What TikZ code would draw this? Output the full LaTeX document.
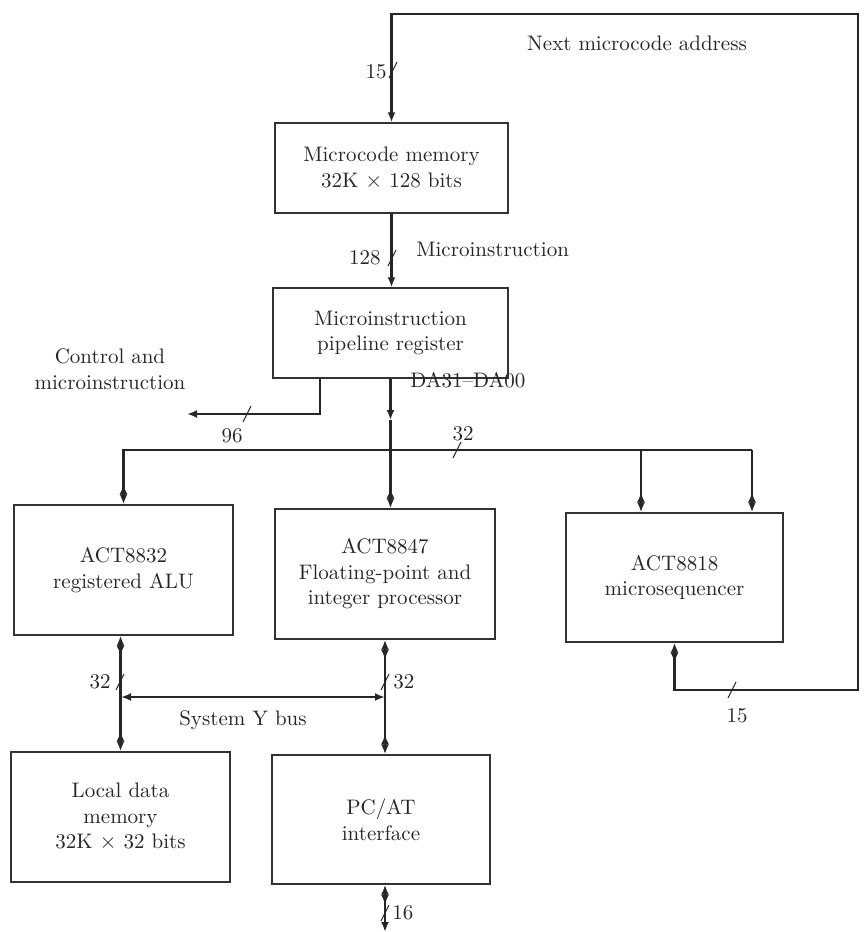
\documentclass[tikz,border=0pt]{standalone}
\usetikzlibrary{arrows.meta}
\begin{document}
\begin{tikzpicture}[x=0.5pt,y=-0.5pt,
  font=\fontsize{10.5}{12.8}\selectfont,
  every node/.style={text=black!85},
  box/.style={draw=black!80, line width=0.7pt, align=center, inner sep=0pt},
  wire/.style={draw=black!85, line width=1.1pt},
  busmark/.pic={\draw[black!85, line width=0.5pt] (-4,8) -- (4,-8);}
]
\useasboundingbox (0,0) rectangle (865,932);

% boxes
\node[box, minimum width=116.5pt, minimum height=45pt] (mem) at (391.5,168) {Microcode memory\\32K $\times$ 128 bits};
\node[box, minimum width=117.5pt, minimum height=45pt] (pipe) at (390.5,333) {Microinstruction\\pipeline register};
\node[box, minimum width=109.5pt, minimum height=65pt] (alu) at (123.5,570) {ACT8832\\registered ALU};
\node[box, minimum width=110pt, minimum height=65pt] (fpu) at (385,574) {ACT8847\\Floating-point and\\integer processor};
\node[box, minimum width=108.5pt, minimum height=64.5pt] (seq) at (674.5,577.5) {ACT8818\\microsequencer};
\node[box, minimum width=109.5pt, minimum height=65pt] (ldm) at (120.5,817) {Local data\\memory\\32K $\times$ 32 bits};
\node[box, minimum width=109pt, minimum height=64.5pt] (pcat) at (381,819.5) {PC/AT\\interface};

% coordinates
\coordinate (c1) at (858,690);
\coordinate (c2) at (858,14);
\coordinate (k1) at (320,414);
\coordinate (k2) at (187,414);
\coordinate (dmid) at (390.5,420);
\coordinate (busR) at (752,450);
\coordinate (busM) at (641,450);
\coordinate (ya) at (121,697);
\coordinate (yb) at (385,697);
\coordinate (pend) at (385,932);

% connectors
\draw[wire, {Latex[length=5pt,width=4pt] Latex[length=5pt,width=4pt,reversed]}-{Latex[length=5pt,width=4pt]}] (seq.south) |- (c1) -- (c2) -| (mem.north);
\draw[wire, -{Latex[length=5pt,width=4pt]}] (mem.south) -- (mem.south |- pipe.north);
\draw[wire, -{Latex[length=5pt,width=4pt]}] (pipe.south -| k1) |- (k2);
\draw[wire, -{Latex[length=5pt,width=4pt]}] (pipe.south) -- (dmid);
\draw[wire, -{Latex[length=5pt,width=4pt,reversed] Latex[length=5pt,width=4pt]}] (dmid) -- (dmid |- fpu.north);
\draw[wire, -{Latex[length=5pt,width=4pt,reversed] Latex[length=5pt,width=4pt]}] (busR) -| (alu.north);
\draw[wire, -{Latex[length=5pt,width=4pt,reversed] Latex[length=5pt,width=4pt]}] (busR) -- (busR |- seq.north);
\draw[wire, -{Latex[length=5pt,width=4pt,reversed] Latex[length=5pt,width=4pt]}] (busM) -- (busM |- seq.north);
\draw[wire, {Latex[length=5pt,width=4pt] Latex[length=5pt,width=4pt,reversed]}-{Latex[length=5pt,width=4pt,reversed] Latex[length=5pt,width=4pt]}] (alu.south -| ldm.north) -- (ldm.north);
\draw[wire, {Latex[length=5pt,width=4pt] Latex[length=5pt,width=4pt,reversed]}-{Latex[length=5pt,width=4pt,reversed] Latex[length=5pt,width=4pt]}] (fpu.south) -- (fpu.south |- pcat.north);
\draw[wire, {Latex[length=5pt,width=4pt]}-{Latex[length=5pt,width=4pt]}] (ya) -- (yb);
\draw[wire, {Latex[length=5pt,width=4pt] Latex[length=5pt,width=4pt,reversed]}-{Latex[length=5pt,width=4pt]}] (pcat.south -| pend) -- (pend);

% bus width marks
\pic at (393,70) {busmark};
\pic at (392,258) {busmark};
\pic at (247,414) {busmark};
\pic at (457,450) {busmark};
\pic at (732,690) {busmark};
\pic at (120,682) {busmark};
\pic at (385,682) {busmark};
\pic at (385,913) {busmark};

% labels
\node (lnext) at (637,43) {Next microcode address};
\node[anchor=east, inner sep=1pt] (l15a) at (389,72) {15};
\node[anchor=east, inner sep=1pt] (l128) at (383,258) {128};
\node[anchor=west, inner sep=1pt] (lmi) at (414,249) {Microinstruction};
\node[align=center] (lctrl) at (110,369) {Control and\\microinstruction};
\node (l96) at (232,436) {96};
\node[anchor=west, inner sep=1pt] (lda) at (408,380) {DA31--DA00};
\node (l32a) at (463,434) {32};
\node (l15b) at (737,716) {15};
\node[anchor=east, inner sep=1pt] (l32b) at (113,682) {32};
\node[anchor=west, inner sep=1pt] (l32c) at (391,682) {32};
\node (lsys) at (243,720) {System Y bus};
\node[anchor=west, inner sep=1pt] (l16) at (390,913) {16};
\end{tikzpicture}
\end{document}
